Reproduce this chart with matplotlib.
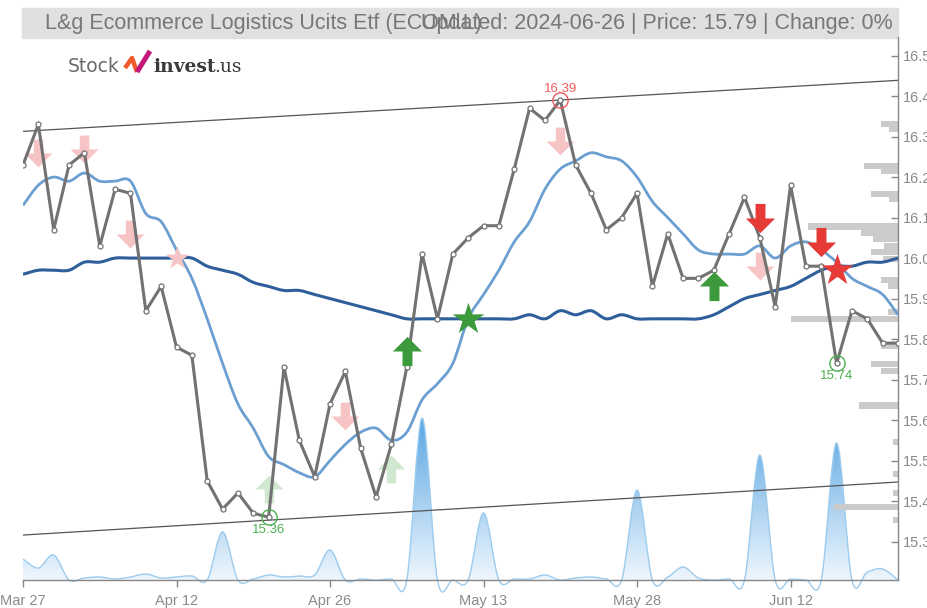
import numpy as np
import matplotlib.pyplot as plt
from matplotlib.path import Path
from matplotlib.patches import PathPatch, Rectangle
from matplotlib.lines import Line2D
from matplotlib.colors import LinearSegmentedColormap

plt.rcParams['font.family'] = ['Liberation Sans', 'DejaVu Sans']

# x axis: trading day index, labelled every 10 sessions
date_labels = ['Mar 27', 'Apr 12', 'Apr 26', 'May 13', 'May 28', 'Jun 12']
date_idx = [0, 10, 20, 30, 40, 50]

price = [16.23, 16.33, 16.07, 16.23, 16.26, 16.03, 16.17, 16.16, 15.87, 15.93,
         15.78, 15.76, 15.45, 15.38, 15.42, 15.37, 15.36, 15.73, 15.55, 15.46,
         15.64, 15.72, 15.53, 15.41, 15.54, 15.73, 16.01, 15.85, 16.01, 16.05,
         16.08, 16.08, 16.22, 16.37, 16.34, 16.39, 16.23, 16.16, 16.07, 16.10,
         16.16, 15.93, 16.06, 15.95, 15.95, 15.97, 16.06, 16.15, 16.05, 15.88,
         16.18, 15.98, 15.98, 15.74, 15.87, 15.85, 15.79, 15.79]

ma_fast = [16.13, 16.18, 16.20, 16.19, 16.21, 16.19, 16.19, 16.19, 16.11, 16.09,
           16.02, 15.95, 15.85, 15.74, 15.64, 15.58, 15.51, 15.49, 15.47, 15.46,
           15.50, 15.54, 15.57, 15.58, 15.55, 15.57, 15.65, 15.69, 15.74, 15.85,
           15.91, 15.97, 16.04, 16.09, 16.17, 16.22, 16.24, 16.26, 16.25, 16.24,
           16.20, 16.14, 16.10, 16.06, 16.02, 16.01, 16.01, 16.01, 16.03, 16.00,
           16.03, 16.04, 16.02, 15.99, 15.95, 15.93, 15.91, 15.86]

ma_slow = [15.96, 15.97, 15.97, 15.97, 15.99, 15.99, 16.00, 16.00, 16.00, 16.00,
           16.00, 16.00, 15.98, 15.97, 15.96, 15.94, 15.93, 15.92, 15.92, 15.91,
           15.90, 15.89, 15.88, 15.87, 15.86, 15.85, 15.85, 15.85, 15.85, 15.85,
           15.85, 15.85, 15.85, 15.86, 15.85, 15.87, 15.86, 15.87, 15.85, 15.86,
           15.85, 15.85, 15.85, 15.85, 15.85, 15.86, 15.88, 15.90, 15.91, 15.92,
           15.93, 15.95, 15.97, 15.98, 15.98, 15.99, 15.99, 16.00]

volume = [21, 12, 25, 0, 2, 3, 1, 3, 6, 2,
          3, 4, 0, 48, 0, 1, 5, 3, 4, 5,
          30, 0, 1, 0, 1, 0, 162, 0, 0, 0,
          67, 0, 1, 1, 5, 0, 2, 3, 1, 0,
          90, 0, 3, 13, 2, 0, 1, 0, 125, 0,
          1, 0, 0, 137, 0, 8, 11, 0]

upper_channel = [16.313, 16.439]
lower_channel = [15.316, 15.447]

profile_price = [16.332, 16.318, 16.228, 16.214, 16.159, 16.145, 16.078, 16.062, 16.046,
                 16.030, 16.014, 15.998, 15.946, 15.930, 15.866, 15.850, 15.782, 15.738,
                 15.722, 15.636, 15.546, 15.466, 15.420, 15.386, 15.354]
profile_volume = [17, 9, 34, 17, 27, 9, 90, 37, 25, 14, 27, 15, 17, 10, 10, 107, 17, 27,
                  17, 39, 5, 5, 5, 64, 5]

faded_sell_idx = [1, 4, 7, 21, 35, 48]
faded_sell_y = [16.26, 16.27, 16.06, 15.61, 16.29, 15.98]
faded_buy_idx = [16, 24]
faded_buy_y = [15.43, 15.48]
faded_star_idx = [10]
faded_star_y = [16.00]
sell_idx = [48, 52]
sell_y = [16.10, 16.04]
buy_idx = [25, 45]
buy_y = [15.77, 15.93]
sell_star_idx = [53]
sell_star_y = [15.97]
buy_star_idx = [29]
buy_star_y = [15.85]

high_idx, high_val = 35, 16.39
low_marks = [(16, 15.36), (53, 15.74)]


def smooth_path(x, y, close_to=None):
    x = np.asarray(x, float)
    y = np.asarray(y, float)
    n = len(x)
    verts = [(x[0], y[0])]
    codes = [Path.MOVETO]
    for i in range(n - 1):
        i0, i3 = max(i - 1, 0), min(i + 2, n - 1)
        c1 = (x[i] + (x[i + 1] - x[i0]) / 6, y[i] + (y[i + 1] - y[i0]) / 6)
        c2 = (x[i + 1] - (x[i3] - x[i]) / 6, y[i + 1] - (y[i3] - y[i]) / 6)
        verts += [c1, c2, (x[i + 1], y[i + 1])]
        codes += [Path.CURVE4] * 3
    if close_to is not None:
        verts += [(x[-1], close_to), (x[0], close_to), (x[0], y[0])]
        codes += [Path.LINETO, Path.LINETO, Path.CLOSEPOLY]
    return Path(verts, codes)


def arrow_marker(up):
    s = 1 if up else -1
    v = [(-0.17, -0.5 * s), (0.17, -0.5 * s), (0.17, 0.0), (0.5, 0.0), (0, 0.5 * s),
         (-0.5, 0.0), (-0.17, 0.0), (-0.17, -0.5 * s)]
    return Path(v, [Path.MOVETO] + [Path.LINETO] * 6 + [Path.CLOSEPOLY])


fig = plt.figure(figsize=(9.28, 6.08), dpi=100)
W, H = 928, 608
ax = fig.add_axes([23 / W, 28 / H, 875 / W, 543 / H])
ax_v = ax.twinx()
ax.set_zorder(2)
ax.patch.set_visible(False)
ax_v.set_zorder(1)

x = np.arange(len(price))

# volume area with vertical gradient
vol_path = smooth_path(x, volume, close_to=0)
clip = PathPatch(vol_path, facecolor='none', edgecolor='none')
ax_v.add_patch(clip)
cmap = LinearSegmentedColormap.from_list('vol', ['#eef6fd', '#5aa6e2'])
grad = np.linspace(0, 1, 256).reshape(-1, 1)
im = ax_v.imshow(grad, extent=[0, len(price) - 1, 0, max(volume)], origin='lower',
                 aspect='auto', cmap=cmap, zorder=1)
im.set_clip_path(clip)
ax_v.add_patch(PathPatch(smooth_path(x, volume), facecolor='none', edgecolor='#9ccbee',
                         lw=1, clip_on=False, zorder=2))
ax_v.set_ylim(0, 543)
ax_v.set_xlim(0, len(price) - 1)
ax_v.axis('off')

# volume profile on the right edge
pw = np.array(profile_volume) / 875
ax.barh(profile_price, pw, height=0.015, left=1 - pw, color='#cbcbcb',
        transform=ax.get_yaxis_transform(), zorder=1)

# channel
ax.plot([0, len(price) - 1], upper_channel, color='#555555', lw=0.9, zorder=2)
ax.plot([0, len(price) - 1], lower_channel, color='#555555', lw=0.9, zorder=2)

# moving averages
ax.add_patch(PathPatch(smooth_path(x, ma_fast), facecolor='none', edgecolor='#6c9fd1', lw=2, zorder=3))
ax.add_patch(PathPatch(smooth_path(x, ma_slow), facecolor='none', edgecolor='#2e5f9b', lw=2.2, zorder=3))

# price
ax.plot(x, price, color='#727272', lw=2.2, marker='o', ms=3.6, mfc='white', mec='#727272',
        mew=0.9, zorder=5)

# signals
down, up = arrow_marker(False), arrow_marker(True)
ax.scatter(faded_sell_idx, faded_sell_y, marker=down, s=20 ** 2, color='#f6c4c4', zorder=4, lw=0)
ax.scatter(faded_buy_idx, faded_buy_y, marker=up, s=20 ** 2, color='#cfe8cf', zorder=4, lw=0)
ax.scatter(faded_star_idx, faded_star_y, marker='*', s=18 ** 2, color='#f6c4c4', zorder=4, lw=0)
ax.scatter(sell_idx, sell_y, marker=down, s=21 ** 2, color='#e53a35', zorder=6, lw=0)
ax.scatter(buy_idx, buy_y, marker=up, s=21 ** 2, color='#3c9a3c', zorder=6, lw=0)
ax.scatter(sell_star_idx, sell_star_y, marker='*', s=24 ** 2, color='#e53a35', zorder=6, lw=0)
ax.scatter(buy_star_idx, buy_star_y, marker='*', s=24 ** 2, color='#3c9a3c', zorder=6, lw=0)

# extremes
ax.plot(high_idx, high_val, 'o', ms=11, mfc='none', mec='#f05a5a', mew=1, zorder=6)
ax.annotate(f'{high_val:.2f}', (high_idx, high_val), xytext=(0, 4), textcoords='offset points',
            ha='center', va='bottom', color='#f05a5a', fontsize=9.5)
for i, v in low_marks:
    ax.plot(i, v, 'o', ms=11, mfc='none', mec='#4caf50', mew=1, zorder=6)
    ax.annotate(f'{v:.2f}', (i, v), xytext=(0, -5), textcoords='offset points',
                ha='center', va='top', color='#4caf50', fontsize=9.5)

# axes styling
ax.set_xlim(0, len(price) - 1)
ax.set_ylim(15.205, 16.546)
ax.yaxis.tick_right()
ax.set_yticks(np.round(np.arange(15.3, 16.51, 0.1), 1))
ax.set_yticklabels([f'{t:.1f}' for t in np.arange(15.3, 16.51, 0.1)])
ax.set_xticks(date_idx, date_labels)
ax.tick_params(axis='both', colors='#888888', labelcolor='#8a8a8a', labelsize=10.5,
               length=5, width=1)
ax.tick_params(axis='y', direction='in', pad=3.5)
ax.tick_params(axis='x', direction='out', pad=5)
for s in ['left', 'top']:
    ax.spines[s].set_visible(False)
for s in ['right', 'bottom']:
    ax.spines[s].set_color('#888888')
    ax.spines[s].set_linewidth(1)

# header band
fig.add_artist(Rectangle((22 / W, 1 - 38 / H), 876 / W, 30 / H, transform=fig.transFigure,
                         color='#e0e0e0', zorder=0))
fig.text(45 / W, 1 - 23 / H, 'L&g Ecommerce Logistics Ucits Etf (ECOM.L)', ha='left', va='center',
         fontsize=15.5, color='#777777')
fig.text(893 / W, 1 - 23 / H, 'Updated: 2024-06-26 | Price: 15.79 | Change: 0%', ha='right',
         va='center', fontsize=15.5, color='#777777')

# logo
fig.text(68 / W, 1 - 72 / H, 'Stock', ha='left', va='baseline', fontsize=13.5,
         family='DejaVu Sans', color='#6b6b6b')
fig.add_artist(Line2D([125 / W, 132 / W, 137 / W], [1 - 68 / H, 1 - 58 / H, 1 - 72 / H],
                      transform=fig.transFigure, color='#f0592b', lw=3.2, solid_capstyle='butt'))
fig.add_artist(Line2D([137 / W, 150 / W], [1 - 72 / H, 1 - 51 / H],
                      transform=fig.transFigure, color='#c2187a', lw=3.6, solid_capstyle='butt'))
fig.text(153 / W, 1 - 72 / H, 'invest', ha='left', va='baseline', fontsize=13.5,
         family='DejaVu Serif', weight='bold', color='#3a3a3a')
fig.text(214 / W, 1 - 72 / H, '.us', ha='left', va='baseline', fontsize=13.5,
         family='DejaVu Serif', color='#3a3a3a')

plt.savefig('out.png', dpi=100)
